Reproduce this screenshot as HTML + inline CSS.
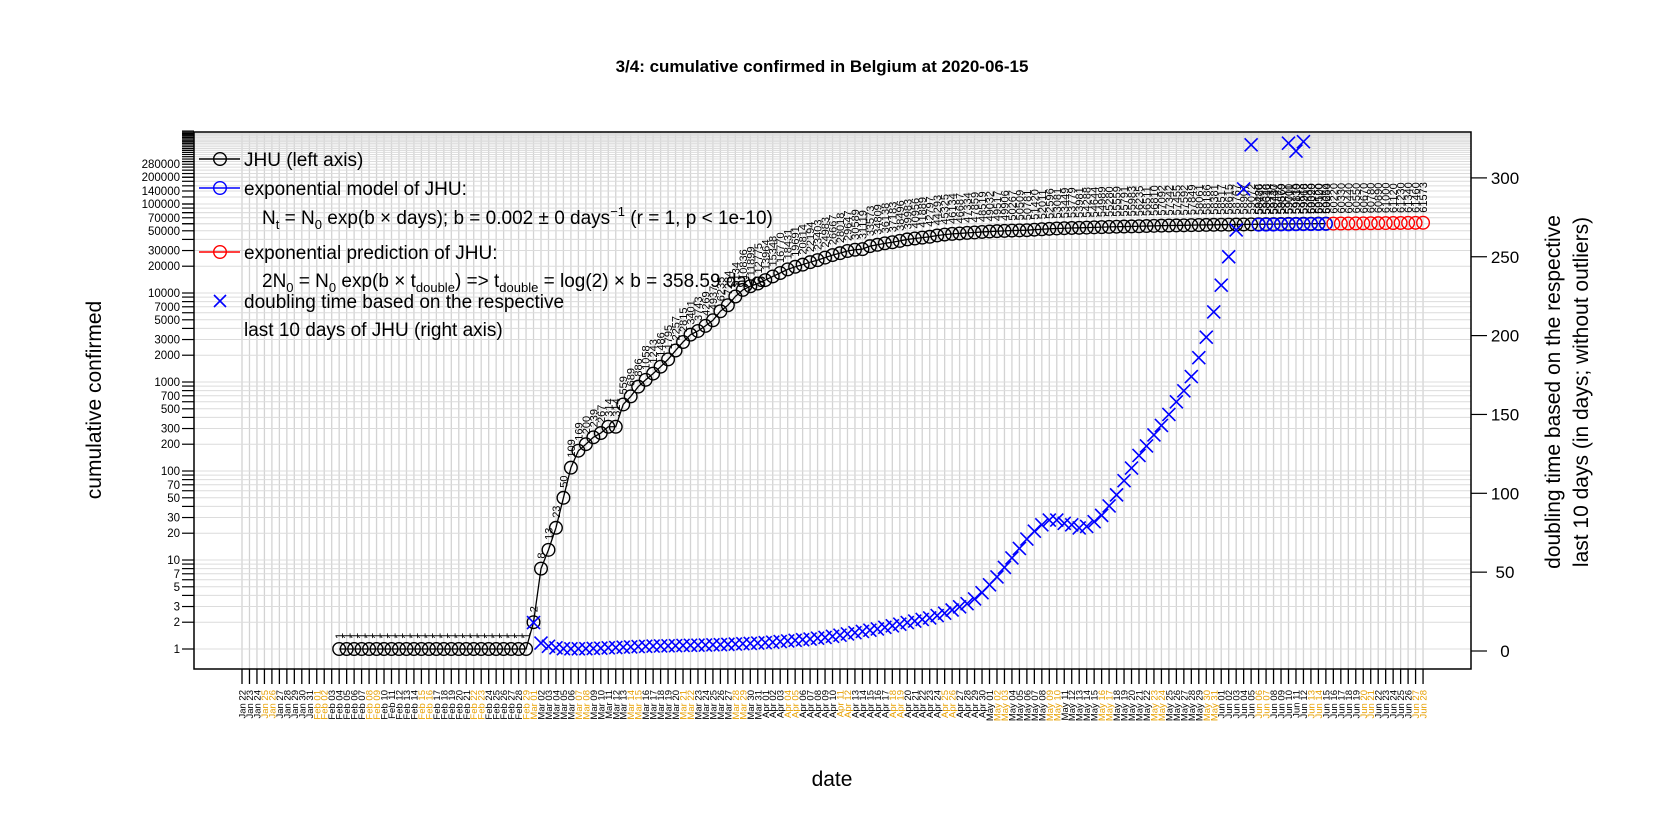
<!DOCTYPE html>
<html><head><meta charset="utf-8"><style>
body{margin:0;background:#fff}
svg{display:block;font-family:"Liberation Sans",Arial,sans-serif}
</style></head><body>
<svg id="chart" width="1666" height="833" viewBox="0 0 1666 833"></svg>
<script>
// ---- data ----
const startDate = [2020, 0, 22];
const nDays = 159;
const jhuStartDay = 13;
const jhuValues = [1,1,1,1,1,1,1,1,1,1,1,1,1,1,1,1,1,1,1,1,1,1,1,1,1,1,
2,8,13,23,50,109,169,200,239,267,314,314,559,689,886,1058,1243,1486,1795,2257,2815,3401,3743,4269,4937,6235,7284,9134,10836,11899,12775,13964,15348,16770,18431,19691,20814,22194,23403,24983,26667,28018,29647,30589,31119,33573,34809,36138,37183,38496,39983,40956,41889,42797,44293,45325,46134,46687,47334,47859,48519,49032,49517,49906,50267,50509,50781,51420,52011,52596,53081,53449,53779,53981,54288,54644,54989,55280,55559,55791,55983,56235,56511,56810,57092,57342,57455,57592,57849,58061,58186,58381,58517,58615,58767,58907,59072,59226,59348,59437,59569,59711,59819,59918,60029,60100,60244];
const modelStartDay = 136;
const modelValues = [58480,58610,58740,58870,59000,59130,59260,59390,59520,59650];
const predStartDay = 146;
const predValues = [60220,60330,60440,60550,60670,60780,60890,61000,61120,61230,61340,61460,61573];
const dblStartDay = 39;
const dblValues = [18,5,3,2,1.5,1.4,1.4,1.5,1.6,1.8,2,2.2,2.4,2.6,2.8,3,3.1,3.2,3.3,3.4,3.5,3.6,3.7,3.8,3.9,4,4.2,4.4,4.6,4.8,5,5.3,5.6,6,6.4,6.8,7.2,7.6,8.1,8.6,
9.3,10,10.8,11.6,12.4,13.2,14,15,16,17,18,19,20,21,22.5,24,26,28,30,33,37,42,47,53,59,65,71,76,80,83,83,81,80,78,79,82,86,92,99,108,116,124,130,137,143,150,158,165,174,186,199,215,232,250,267,293,321,335,340,340,340,322,317,323];
const leftTickLabels = [1,2,3,5,7,10,20,30,50,70,100,200,300,500,700,1000,2000,3000,5000,7000,10000,20000,30000,50000,70000,100000,140000,200000,280000];
const rightTickLabels = [0,50,100,150,200,250,300];

// ---- geometry ----
const L=194,R=1471,T=132,B=669;
const xDay = d => 242 + d*7.475;
const yL = v => 649 - 89*Math.log10(v);
const yR = v => 651 - 1.577*v;
const svg=document.getElementById('chart');
const NS='http://www.w3.org/2000/svg';
function mk(tag,attrs,parent){const e=document.createElementNS(NS,tag);for(const k in attrs)e.setAttribute(k,attrs[k]);(parent||svg).appendChild(e);return e;}

const defs=mk('defs',{});const cp=mk('clipPath',{id:'pc'},defs);mk('rect',{x:L,y:T,width:R-L,height:B-T},cp);

// grid
const grid=mk('g',{'clip-path':'url(#pc)'});


for(let d=0;d<nDays;d++){mk('line',{x1:xDay(d),x2:xDay(d),y1:T,y2:B,stroke:'#d3d3d3','stroke-width':1.3},grid);}
const gridVals=[];
for(let k=0;k<6;k++)for(let m=1;m<10;m++)gridVals.push(m*Math.pow(10,k));
for(let v=60000;v<=660000;v+=20000)gridVals.push(v);
gridVals.forEach(v=>{const y=yL(v);if(y>=T&&y<=B)mk('line',{x1:L,x2:R,y1:y,y2:y,stroke:'#dcdcdc','stroke-width':1},grid);});

const box=mk('rect',{x:L,y:T,width:R-L,height:B-T,fill:'none',stroke:'#000','stroke-width':1.5});



const title=mk('text',{x:822,y:72,'text-anchor':'middle','font-size':17,'font-weight':'bold'});
title.textContent='3/4: cumulative confirmed in Belgium at 2020-06-15';



// left axis
const la=mk('g',{});


gridVals.forEach(v=>{const y=yL(v);if(y>=T-2&&y<=B)mk('line',{x1:L-12,x2:L,y1:y,y2:y,stroke:'#000','stroke-width':1.2},la);});
leftTickLabels.forEach(v=>{const t=mk('text',{x:L-14,y:yL(v)+4,'text-anchor':'end','font-size':11.5},la);t.textContent=String(v);});
const lt=mk('text',{x:0,y:0,'text-anchor':'middle','font-size':21,transform:'translate(101,400) rotate(-90)'});
lt.textContent='cumulative confirmed';



// right axis
const ra=mk('g',{});


rightTickLabels.forEach(v=>{const y=yR(v);mk('line',{x1:R,x2:R+16,y1:y,y2:y,stroke:'#000','stroke-width':1.2},ra);const t=mk('text',{x:R+34,y:y+6,'text-anchor':'middle','font-size':17},ra);t.textContent=String(v);});
const rt1=mk('text',{x:0,y:0,'text-anchor':'middle','font-size':21,transform:'translate(1560,392) rotate(-90)'});
rt1.textContent='doubling time based on the respective';


const rt2=mk('text',{x:0,y:0,'text-anchor':'middle','font-size':21,transform:'translate(1588,392) rotate(-90)'});
rt2.textContent='last 10 days (in days; without outliers)';



// x axis
const xa=mk('g',{});


const months=['Jan','Feb','Mar','Apr','May','Jun','Jul'];
for(let d=0;d<nDays;d++){
  const x=xDay(d);
  mk('line',{x1:x,x2:x,y1:B,y2:B+15,stroke:'#000','stroke-width':1.3},xa);
  const dt=new Date(startDate[0],startDate[1],startDate[2]+d);
  const wk=dt.getDay()===0||dt.getDay()===6;
  const lab=months[dt.getMonth()]+' '+String(dt.getDate()).padStart(2,'0');
  const t=mk('text',{x:0,y:0,'text-anchor':'end','font-size':9.5,fill:wk?'#E69F00':'#000',transform:`translate(${x+3.5},${B+21}) rotate(-90)`},xa);
  t.textContent=lab;
}
const xt=mk('text',{x:832,y:786,'text-anchor':'middle','font-size':21});
xt.textContent='date';



// series
const plot=mk('g',{'clip-path':'url(#pc)'});
function circles(start,vals,color,name){
  const g=mk('g',{},plot);
  
  
  if(color==='#000'){const pts=vals.map((v,i)=>xDay(start+i)+','+yL(v)).join(' ');mk('polyline',{points:pts,fill:'none',stroke:'#000','stroke-width':1.3},g);}
  vals.forEach((v,i)=>{
    const x=xDay(start+i),y=yL(v);
    const c=mk('circle',{cx:x,cy:y,r:6.3,fill:'none',stroke:color,'stroke-width':1.4},g);
    
    
    const t=mk('text',{x:0,y:0,'font-size':11,fill:'#000',transform:`translate(${x+4},${y-10}) rotate(-90)`},g);
    t.textContent=String(v);
  });
}
circles(jhuStartDay,jhuValues,'#000','jhu-series');
circles(modelStartDay,modelValues,'#0000ff','model-series');
circles(predStartDay,predValues,'#ff0000','prediction-series');
const dg=mk('g',{},plot);


dblValues.forEach((v,i)=>{
  const x=xDay(dblStartDay+i),y=yR(v),s=6.5;
  const p=mk('path',{d:`M${x-s},${y-s}L${x+s},${y+s}M${x-s},${y+s}L${x+s},${y-s}`,stroke:'#0000ff','stroke-width':1.6,fill:'none'},dg);
  
  
});

// legend
const lg=mk('g',{});


function legLine(y,color,text){
  mk('line',{x1:199,x2:240,y1:y,y2:y,stroke:color,'stroke-width':1.4},lg);
  mk('circle',{cx:220,cy:y,r:6.3,fill:'none',stroke:color,'stroke-width':1.4},lg);
  const t=mk('text',{x:244,y:y+7,'font-size':19},lg);t.textContent=text;
}
legLine(159,'#000','JHU (left axis)');
legLine(188,'#0000ff','exponential model of JHU:');
const f1=mk('text',{x:262,y:224,'font-size':19},lg);
f1.innerHTML='N<tspan font-size="13" dy="5">t</tspan><tspan dy="-5"> = N</tspan><tspan font-size="13" dy="5">0</tspan><tspan dy="-5"> exp(b × days); b = 0.002 ± 0 days</tspan><tspan font-size="13" dy="-8">−1</tspan><tspan dy="8"> (r = 1, p &lt; 1e-10)</tspan>';
legLine(252,'#ff0000','exponential prediction of JHU:');
const f2=mk('text',{x:262,y:287,'font-size':19},lg);
f2.innerHTML='2N<tspan font-size="13" dy="5">0</tspan><tspan dy="-5"> = N</tspan><tspan font-size="13" dy="5">0</tspan><tspan dy="-5"> exp(b × t</tspan><tspan font-size="13" dy="5">double</tspan><tspan dy="-5">) =&gt; t</tspan><tspan font-size="13" dy="5">double</tspan><tspan dy="-5"> = log(2) × b = 358.59 days</tspan>';
mk('path',{d:'M214,295L226,307M214,307L226,295',stroke:'#0000ff','stroke-width':1.6},lg);
const l4=mk('text',{x:244,y:308,'font-size':19},lg);l4.textContent='doubling time based on the respective';
const l5=mk('text',{x:244,y:336,'font-size':19},lg);l5.textContent='last 10 days of JHU (right axis)';
</script>
</body></html>
